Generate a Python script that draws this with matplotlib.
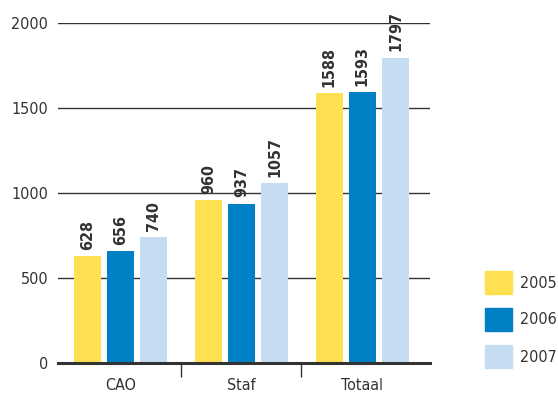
import matplotlib
matplotlib.use("Agg")
import matplotlib.pyplot as plt
from matplotlib.patches import Rectangle
import numpy as np

plt.rcParams['font.family'] = ['DejaVu Sans']
plt.rcParams['font.stretch'] = 'condensed'

categories = ['CAO', 'Staf', 'Totaal']
years = ['2005', '2006', '2007']
v2005 = [628, 960, 1588]
v2006 = [656, 937, 1593]
v2007 = [740, 1057, 1797]
colors = ['#FFE050', '#0081C6', '#C6DCF0']
txt = '#333333'

fig = plt.figure(figsize=(5.58, 3.98), dpi=100)
ax = fig.add_axes([58/558, 35/398, 372/558, 340/398])

x = np.arange(len(categories))
w = 0.224
step = 0.274
for i, (vals, c) in enumerate(zip([v2005, v2006, v2007], colors)):
    xs = x + (i - 1) * step
    ax.bar(xs, vals, width=w, color=c, zorder=3)
    for xi, v in zip(xs, vals):
        ax.annotate(str(v), (xi, v), xytext=(0, 4.5), textcoords='offset points',
                    rotation=90, ha='center', va='bottom', fontsize=11.5,
                    fontweight='bold', color=txt)

ax.set_xlim(-0.52, 2.56)
ax.set_ylim(0, 2000)
ax.set_yticks([0, 500, 1000, 1500, 2000])
ax.yaxis.grid(True, color='#333333', linewidth=1, zorder=0)
ax.tick_params(axis='y', length=0, pad=7, labelsize=11.5, labelcolor=txt)

# category names centred, separator ticks between groups
ax.set_xticks([0.5, 1.49])
ax.set_xticklabels([])
ax.tick_params(axis='x', length=10, width=1, color='#333333', direction='out')
for xi, name in zip(x, categories):
    ax.text(xi, -0.065, name, transform=ax.get_xaxis_transform(),
            ha='center', va='center', fontsize=11.5, color=txt)

for s in ['top', 'right', 'left']:
    ax.spines[s].set_visible(False)
ax.spines['bottom'].set_linewidth(2.2)
ax.spines['bottom'].set_color('#333333')
ax.spines['bottom'].set_zorder(4)

# legend boxes on the right
for j, (yr, c) in enumerate(zip(years, colors)):
    top = 271 + j * 37
    fig.patches.append(Rectangle((485/558, 1 - (top + 23)/398), 27/558, 23/398,
                                 transform=fig.transFigure, color=c))
    fig.text(520/558, 1 - (top + 12)/398, yr, ha='left', va='center',
             fontsize=11.5, color=txt)

fig.savefig('out.png', dpi=100)
